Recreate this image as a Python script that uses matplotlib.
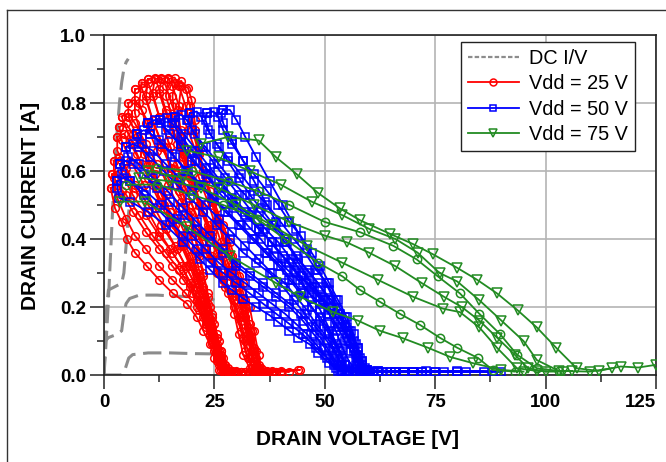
import matplotlib
matplotlib.use("Agg")
import matplotlib.pyplot as plt
from matplotlib.lines import Line2D
from matplotlib.ticker import MultipleLocator, FixedLocator

plt.rcParams['font.family'] = ['Liberation Sans', 'DejaVu Sans']

# ---- data: (drain voltage [V], drain current [A]) ----

# DC I/V curves
dc_curves = [
    [(0, 0), (0.5, 0.1), (1, 0.22), (1.5, 0.36), (2, 0.5), (2.5, 0.62), (3, 0.72),
     (3.5, 0.8), (4, 0.86), (4.5, 0.9), (5, 0.92), (5.5, 0.93)],
    [(0, 0), (0.3, 0.12), (0.6, 0.2), (1, 0.25), (2.5, 0.26), (4, 0.27), (4.5, 0.3),
     (5, 0.38), (5.2, 0.42), (5.6, 0.48), (5.9, 0.51), (6.2, 0.55)],
    [(0, 0), (0.3, 0.1), (1, 0.11), (3, 0.12), (4, 0.13), (4.5, 0.18), (5, 0.21),
     (5.8, 0.225), (8, 0.235), (12, 0.235), (16, 0.232), (20, 0.23), (24, 0.225), (25, 0.22)],
    [(0, 0), (4, 0.0), (4.6, 0.01), (5.1, 0.03), (5.6, 0.05), (6.5, 0.06), (10, 0.065),
     (15, 0.065), (20, 0.063), (25, 0.062)],
]

# Vdd = 25 V load lines
red_loops = [
    [(1.5, 0.55), (3, 0.56), (5, 0.53), (8, 0.47), (11, 0.41), (14, 0.36), (17, 0.31), (19.5, 0.26),
     (21.5, 0.21), (23, 0.16), (24.5, 0.11), (25.5, 0.07), (26.5, 0.03), (27, 0.01), (30, 0.01),
     (26, 0.015), (25, 0.05), (24, 0.09), (22.5, 0.13), (21, 0.17), (18.8, 0.21), (15.6, 0.24),
     (12.5, 0.28), (9.7, 0.32), (7, 0.36), (5.2, 0.4), (4, 0.45), (2.5, 0.49), (1.5, 0.55)],
    [(1.8, 0.59), (3.2, 0.6), (4.5, 0.58), (6.5, 0.53), (9.5, 0.47), (12.5, 0.41), (15.5, 0.36),
     (18, 0.31), (20.5, 0.25), (22.5, 0.19), (24, 0.13), (25.5, 0.08), (26.5, 0.04), (27.5, 0.01),
     (31, 0.01), (26.5, 0.015), (25.5, 0.05), (24.5, 0.1), (23, 0.15), (21, 0.2), (18.5, 0.24),
     (15.5, 0.28), (12.5, 0.32), (9.5, 0.37), (7, 0.41), (5, 0.46), (3, 0.52), (1.8, 0.59)],
    [(2.2, 0.63), (3.5, 0.64), (5, 0.61), (7, 0.56), (10, 0.5), (13, 0.44), (16, 0.38), (18.5, 0.32),
     (20.5, 0.27), (22, 0.22), (23.5, 0.17), (25, 0.11), (26, 0.06), (27, 0.02), (28, 0.01), (30, 0.008),
     (32, 0.01), (29, 0.012), (27, 0.015), (25.5, 0.04), (24.5, 0.09), (23, 0.14), (21.5, 0.19),
     (20, 0.24), (18, 0.28), (15.5, 0.32), (12.5, 0.37), (9.5, 0.42), (6.5, 0.48), (4, 0.54),
     (2.3, 0.58), (2.2, 0.63)],
    [(3, 0.70), (4.5, 0.71), (6, 0.68), (8.5, 0.62), (11, 0.56), (13.5, 0.5), (16, 0.44), (18, 0.38),
     (20, 0.32), (21.5, 0.27), (22.5, 0.22), (24, 0.16), (25, 0.11), (26, 0.07), (27, 0.03), (28, 0.01),
     (31, 0.01), (35, 0.01), (30, 0.012), (27.5, 0.015), (26, 0.03), (25, 0.07), (24, 0.12),
     (22.5, 0.17), (21, 0.22), (19.5, 0.27), (17.5, 0.32), (15, 0.37), (12.5, 0.42), (10, 0.48),
     (7, 0.55), (4.5, 0.62), (3, 0.66), (3, 0.70)],
    [(3.5, 0.73), (5, 0.74), (6.5, 0.71), (9, 0.65), (11.5, 0.59), (14, 0.53), (16.5, 0.47),
     (18.5, 0.41), (20, 0.35), (21.5, 0.29), (22.5, 0.24), (23.5, 0.19), (24.5, 0.14), (25.5, 0.09),
     (26.5, 0.05), (27.5, 0.02), (28.5, 0.01), (33, 0.01), (28, 0.012), (26.5, 0.03), (25.5, 0.07),
     (24.5, 0.12), (23.5, 0.17), (22, 0.22), (20.5, 0.27), (18.5, 0.32), (16.5, 0.37), (14, 0.43),
     (11.5, 0.49), (9, 0.56), (6, 0.63), (4, 0.69), (3.5, 0.73)],
    [(4, 0.76), (5.5, 0.77), (7, 0.74), (9.5, 0.68), (12, 0.62), (14.5, 0.56), (17, 0.49), (19, 0.43),
     (20.5, 0.37), (21.5, 0.31), (22.5, 0.26), (23.5, 0.21), (24.5, 0.16), (25.5, 0.11), (26.5, 0.07),
     (27.5, 0.03), (28.5, 0.01), (33, 0.01), (37, 0.012), (31, 0.01), (28, 0.015), (26.5, 0.04),
     (25.5, 0.08), (24.5, 0.13), (23.5, 0.18), (22.5, 0.23), (21, 0.28), (19.5, 0.33), (17.5, 0.39),
     (15, 0.45), (12.5, 0.51), (10, 0.58), (7.5, 0.65), (5.5, 0.71), (4, 0.76)],
    [(5.5, 0.8), (7, 0.81), (8.5, 0.78), (10.5, 0.73), (13, 0.67), (15.5, 0.61), (17.5, 0.55),
     (19.5, 0.48), (20.5, 0.42), (21.5, 0.36), (22.5, 0.3), (23.5, 0.24), (24.5, 0.18), (25.5, 0.12),
     (26.5, 0.07), (27.5, 0.03), (28.5, 0.01), (34, 0.01), (38, 0.012), (32, 0.01), (28, 0.02),
     (27, 0.05), (26, 0.1), (25, 0.15), (24, 0.2), (22.5, 0.25), (21, 0.3), (19.5, 0.35), (17.5, 0.41),
     (15, 0.48), (12.5, 0.55), (10, 0.62), (7.5, 0.7), (5.5, 0.76), (5.5, 0.8)],
    [(7, 0.84), (8.5, 0.845), (9.5, 0.81), (11, 0.75), (13, 0.68), (15, 0.61), (17, 0.54), (19, 0.47),
     (20.5, 0.41), (21.5, 0.35), (22.5, 0.29), (23.5, 0.23), (24.5, 0.17), (25.5, 0.11), (26.5, 0.06),
     (27.5, 0.02), (28.5, 0.01), (34, 0.01), (29, 0.012), (27.5, 0.015), (26, 0.04), (25, 0.09),
     (24, 0.14), (22.5, 0.2), (21, 0.26), (19.5, 0.32), (17.5, 0.38), (15.5, 0.45), (13, 0.53),
     (10.5, 0.62), (8.5, 0.7), (7, 0.77), (7, 0.84)],
    [(8.5, 0.86), (10, 0.86), (11, 0.82), (12.5, 0.76), (14.5, 0.69), (16.5, 0.62), (18.5, 0.55),
     (20.5, 0.48), (22.5, 0.41), (24.5, 0.34), (27, 0.28), (29.5, 0.22), (31, 0.16), (32, 0.1),
     (33, 0.05), (34, 0.01), (37, 0.01), (33, 0.02), (31.5, 0.06), (30.5, 0.12), (29.5, 0.18),
     (28, 0.24), (25.5, 0.3), (23, 0.36), (20.5, 0.43), (17.5, 0.51), (14.5, 0.58), (12, 0.66),
     (9.5, 0.74), (8, 0.8), (8.5, 0.86)],
    [(10, 0.87), (11.5, 0.875), (12.5, 0.84), (14, 0.78), (16, 0.71), (18, 0.64), (20, 0.57), (22, 0.5),
     (24, 0.43), (26, 0.37), (28, 0.3), (30, 0.24), (31.5, 0.17), (32.5, 0.11), (33.5, 0.05),
     (34.5, 0.01), (38, 0.01), (33.5, 0.02), (32, 0.07), (31, 0.13), (29.5, 0.2), (27.5, 0.26),
     (25.5, 0.31), (23, 0.37), (21, 0.43), (18.5, 0.51), (16, 0.59), (13.5, 0.67), (11, 0.75),
     (9.5, 0.82), (10, 0.87)],
    [(11.5, 0.87), (13, 0.875), (14, 0.85), (15.5, 0.79), (17.5, 0.72), (19.5, 0.65), (21.5, 0.58),
     (23.5, 0.51), (25, 0.45), (26.5, 0.39), (28, 0.33), (29.5, 0.27), (31, 0.21), (32.5, 0.14),
     (33.5, 0.07), (34.5, 0.02), (35.5, 0.01), (40, 0.01), (34, 0.015), (32.5, 0.05), (31.5, 0.11),
     (30.5, 0.17), (29, 0.23), (27, 0.29), (24.5, 0.35), (22.5, 0.42), (20, 0.5), (17.5, 0.58),
     (15, 0.67), (12.5, 0.76), (11, 0.83), (11.5, 0.87)],
    [(13, 0.87), (14.5, 0.875), (15.5, 0.85), (17, 0.79), (19, 0.72), (21, 0.65), (23, 0.57),
     (24.5, 0.5), (26, 0.44), (27.5, 0.38), (29, 0.32), (30.5, 0.26), (32, 0.19), (33, 0.13), (34, 0.07),
     (35, 0.02), (36, 0.01), (42, 0.01), (35, 0.015), (33.5, 0.06), (32.5, 0.12), (31.5, 0.18),
     (30, 0.24), (28, 0.3), (25.5, 0.36), (23.5, 0.43), (21.5, 0.5), (19, 0.59), (16.5, 0.68),
     (14, 0.77), (12.5, 0.83), (13, 0.87)],
    [(14.5, 0.87), (16, 0.875), (17, 0.85), (18.5, 0.79), (20, 0.72), (21.5, 0.65), (23, 0.58),
     (24.5, 0.51), (26, 0.45), (27.5, 0.39), (29, 0.33), (30.5, 0.27), (32, 0.2), (33.5, 0.13),
     (34.5, 0.07), (35.5, 0.02), (36.5, 0.01), (40, 0.012), (44, 0.015), (36, 0.015), (34.5, 0.05),
     (33, 0.11), (32, 0.17), (30.5, 0.23), (28.5, 0.29), (26.5, 0.35), (24.5, 0.41), (22.5, 0.48),
     (20.5, 0.56), (18, 0.65), (16, 0.74), (14, 0.82), (14.5, 0.87)],
    [(16, 0.86), (17.5, 0.865), (18.5, 0.84), (19.5, 0.79), (20.5, 0.72), (21.5, 0.65), (23, 0.58),
     (24.5, 0.52), (26, 0.46), (27.5, 0.41), (29, 0.35), (30.5, 0.29), (32, 0.22), (33, 0.15),
     (34, 0.08), (35, 0.03), (36, 0.01), (39, 0.01), (35, 0.015), (33.5, 0.06), (32.5, 0.12),
     (31.5, 0.19), (30, 0.25), (28, 0.31), (25.5, 0.38), (23.5, 0.44), (21.5, 0.5), (19.5, 0.58),
     (17.5, 0.67), (16, 0.76), (15.5, 0.82), (16, 0.86)],
    [(17.5, 0.85), (19, 0.845), (19.8, 0.81), (20.5, 0.75), (21.5, 0.67), (22.5, 0.6), (24, 0.54),
     (25.5, 0.49), (27, 0.44), (28.5, 0.39), (30, 0.33), (31.5, 0.27), (33, 0.2), (34, 0.13), (35, 0.06),
     (35.8, 0.01), (39, 0.01), (44.4, 0.015), (38, 0.01), (35, 0.012), (34, 0.04), (33, 0.1), (32, 0.17),
     (30.5, 0.23), (28.5, 0.3), (26.5, 0.36), (24.5, 0.42), (22.5, 0.48), (20.5, 0.55), (19, 0.62),
     (17.5, 0.7), (16.8, 0.78), (17.5, 0.85)],
]

# Vdd = 50 V load lines
blue_loops = [
    [(3, 0.57), (4.5, 0.58), (6, 0.57), (9, 0.53), (12, 0.49), (15, 0.45), (18, 0.41), (21, 0.37),
     (24, 0.33), (27, 0.3), (30, 0.27), (33, 0.24), (36, 0.21), (39, 0.18), (42, 0.15), (45, 0.12),
     (48, 0.08), (50.5, 0.05), (52.5, 0.02), (54, 0.01), (58, 0.01), (62, 0.01), (53, 0.012),
     (51, 0.035), (48.5, 0.065), (46.6, 0.09), (44, 0.11), (42, 0.13), (39.5, 0.155), (37.6, 0.175),
     (34.5, 0.2), (31.5, 0.225), (29, 0.25), (27, 0.27), (24, 0.31), (21.7, 0.34), (18, 0.39),
     (14, 0.44), (10, 0.48), (6, 0.51), (3.5, 0.52), (3, 0.55), (3, 0.57)],
    [(3.6, 0.62), (5, 0.63), (6.5, 0.62), (9, 0.59), (12, 0.55), (15, 0.51), (18, 0.47), (21, 0.43),
     (24, 0.39), (27, 0.36), (30, 0.32), (33, 0.29), (36, 0.26), (39, 0.23), (42, 0.2), (45, 0.16),
     (47.5, 0.12), (50, 0.08), (52, 0.04), (53.5, 0.015), (55, 0.01), (60, 0.008), (66, 0.01),
     (57, 0.01), (54, 0.012), (52, 0.03), (50, 0.06), (48, 0.09), (46, 0.12), (43.5, 0.15), (41, 0.18),
     (38, 0.21), (35, 0.24), (32, 0.27), (29, 0.3), (26, 0.33), (23, 0.37), (20, 0.41), (16.5, 0.46),
     (13, 0.5), (9.5, 0.54), (6, 0.57), (4, 0.59), (3.6, 0.62)],
    [(5, 0.67), (6.5, 0.68), (8, 0.67), (10.5, 0.64), (13.5, 0.6), (16.5, 0.56), (19.5, 0.52),
     (22.5, 0.48), (25.5, 0.44), (28.5, 0.4), (31.5, 0.36), (34.5, 0.33), (37.5, 0.3), (40.5, 0.26),
     (43, 0.22), (45.5, 0.18), (48, 0.14), (50.5, 0.1), (52.5, 0.06), (54, 0.025), (55, 0.01),
     (63, 0.01), (70, 0.01), (60, 0.008), (54.5, 0.012), (53, 0.03), (51, 0.07), (49, 0.11), (47, 0.14),
     (44.5, 0.18), (42, 0.21), (39, 0.24), (36, 0.27), (33, 0.3), (30, 0.33), (27, 0.37), (24, 0.41),
     (21, 0.45), (18, 0.49), (14.5, 0.54), (11, 0.58), (8, 0.62), (5.5, 0.64), (5, 0.67)],
    [(7.5, 0.71), (9, 0.72), (10.5, 0.71), (13, 0.68), (16, 0.64), (19, 0.6), (22, 0.56), (25, 0.52),
     (28, 0.48), (31, 0.44), (34, 0.4), (37, 0.36), (40, 0.32), (42.5, 0.28), (45, 0.24), (47, 0.2),
     (49, 0.16), (51, 0.12), (53, 0.07), (54.5, 0.03), (55.5, 0.01), (62, 0.012), (68, 0.01),
     (75, 0.01), (64, 0.008), (55, 0.012), (53.5, 0.04), (52, 0.08), (50, 0.12), (48, 0.15), (46, 0.19),
     (43.5, 0.23), (41, 0.27), (38, 0.3), (35, 0.34), (32, 0.38), (29, 0.42), (26, 0.46), (23, 0.5),
     (20, 0.54), (17, 0.58), (14, 0.62), (11, 0.66), (8.5, 0.68), (7.5, 0.71)],
    [(10, 0.74), (11.5, 0.75), (13, 0.74), (15, 0.71), (17.5, 0.67), (20, 0.63), (23, 0.59), (26, 0.55),
     (29, 0.51), (32, 0.47), (35, 0.43), (38, 0.39), (40.5, 0.35), (43, 0.31), (45, 0.27), (47, 0.23),
     (49, 0.19), (50.5, 0.15), (52, 0.11), (53.5, 0.07), (54.5, 0.03), (55.5, 0.01), (65, 0.01),
     (72, 0.008), (80, 0.01), (58, 0.01), (55, 0.015), (54, 0.05), (52.5, 0.09), (51, 0.13), (49, 0.17),
     (47, 0.2), (44.5, 0.24), (42, 0.28), (39.5, 0.32), (36.5, 0.36), (33.5, 0.4), (30.5, 0.44),
     (27.5, 0.48), (24.5, 0.52), (21.5, 0.56), (18.5, 0.6), (15.5, 0.65), (12.5, 0.69), (10.5, 0.71),
     (10, 0.74)],
    [(12.7, 0.75), (14.2, 0.755), (15.5, 0.74), (17.5, 0.7), (20, 0.66), (23, 0.61), (26, 0.57),
     (29, 0.52), (32, 0.48), (35, 0.43), (38, 0.39), (41, 0.34), (43.5, 0.3), (46, 0.27), (48.5, 0.23),
     (51, 0.2), (53, 0.16), (55, 0.12), (56.5, 0.08), (57.5, 0.04), (58.5, 0.01), (66, 0.01), (75, 0.01),
     (62, 0.012), (58, 0.015), (57, 0.03), (56, 0.07), (54.5, 0.1), (53, 0.14), (51, 0.18), (49, 0.21),
     (46.5, 0.24), (44, 0.28), (41.5, 0.31), (38.5, 0.35), (35.5, 0.4), (32.5, 0.44), (29.5, 0.49),
     (26.5, 0.53), (23.5, 0.58), (20.5, 0.63), (17.5, 0.68), (14, 0.72), (12.7, 0.75)],
    [(16, 0.76), (17.5, 0.765), (18.7, 0.75), (20.5, 0.71), (23, 0.67), (26, 0.62), (29, 0.57),
     (32, 0.53), (35, 0.48), (38, 0.44), (41, 0.39), (44, 0.34), (46.5, 0.3), (49, 0.26), (51.5, 0.22),
     (53.5, 0.18), (55.5, 0.13), (57, 0.09), (58, 0.05), (59, 0.02), (60, 0.01), (70, 0.01), (82, 0.01),
     (66, 0.008), (59, 0.015), (57.5, 0.03), (56.5, 0.07), (55, 0.11), (53.5, 0.15), (51.5, 0.19),
     (49.5, 0.22), (47, 0.26), (44.5, 0.29), (42, 0.33), (39, 0.37), (36, 0.42), (33, 0.47), (30, 0.51),
     (27, 0.56), (24, 0.61), (21, 0.66), (18, 0.71), (16, 0.74), (16, 0.76)],
    [(19.5, 0.77), (21, 0.775), (22, 0.76), (23.5, 0.72), (25.5, 0.68), (28, 0.64), (31, 0.59),
     (34, 0.54), (37, 0.5), (40, 0.45), (43, 0.4), (45.5, 0.36), (48, 0.31), (50.5, 0.27), (52.5, 0.22),
     (54.5, 0.17), (56, 0.13), (57.5, 0.08), (58.5, 0.04), (59.5, 0.015), (61, 0.01), (73, 0.012),
     (86, 0.01), (68, 0.01), (59.5, 0.015), (58, 0.03), (57, 0.06), (55.5, 0.1), (54, 0.14), (52, 0.18),
     (50, 0.22), (47.5, 0.26), (45, 0.3), (42.5, 0.34), (39.5, 0.39), (36.5, 0.43), (33.5, 0.48),
     (30.5, 0.53), (27.5, 0.58), (25, 0.62), (22.5, 0.67), (20, 0.72), (19, 0.75), (19.5, 0.77)],
    [(23.3, 0.77), (24.8, 0.775), (25.8, 0.76), (27, 0.72), (29, 0.68), (31.5, 0.63), (34, 0.59),
     (37, 0.54), (39.5, 0.5), (42, 0.45), (44.5, 0.41), (47, 0.36), (49, 0.32), (51, 0.27), (53, 0.22),
     (55, 0.17), (56.5, 0.12), (57.5, 0.08), (58.5, 0.04), (59.5, 0.015), (61, 0.01), (77, 0.01),
     (88, 0.01), (70, 0.008), (60, 0.012), (58.5, 0.03), (57.5, 0.06), (56.5, 0.1), (55, 0.14),
     (53, 0.18), (51, 0.22), (48.5, 0.27), (46, 0.31), (43.5, 0.35), (41, 0.4), (38.5, 0.44),
     (35.5, 0.49), (33, 0.53), (30.5, 0.58), (28, 0.63), (26, 0.67), (24, 0.71), (23, 0.75), (23.3, 0.77)],
    [(27, 0.78), (28.5, 0.78), (30, 0.75), (32, 0.7), (34.5, 0.64), (37.5, 0.57), (40.5, 0.5),
     (43.5, 0.43), (46, 0.37), (48.5, 0.31), (51, 0.25), (53, 0.19), (54.5, 0.14), (56, 0.09),
     (57.5, 0.05), (58.5, 0.02), (60, 0.01), (72, 0.01), (80, 0.012), (90, 0.01), (62, 0.01),
     (57, 0.015), (55.5, 0.04), (54, 0.08), (52.5, 0.13), (51, 0.18), (49, 0.23), (46.5, 0.28),
     (44, 0.33), (41.5, 0.39), (39, 0.45), (36.5, 0.51), (34, 0.57), (31.5, 0.63), (29, 0.69),
     (27, 0.74), (26.5, 0.77), (27, 0.78)],
]

# Vdd = 75 V load lines (triangle-marked)
green_tri_lines = [
    [(22, 0.68), (28, 0.7), (35, 0.69), (39, 0.64), (43.7, 0.59), (48.5, 0.535), (53.4, 0.49),
     (58, 0.455), (64.8, 0.415), (70, 0.385), (74.5, 0.355), (80, 0.315), (84.5, 0.28), (89, 0.24),
     (93.7, 0.19), (98, 0.14), (102.4, 0.08), (107, 0.02), (112, 0.012), (117, 0.025), (121, 0.022),
     (125, 0.03)],
    [(18.8, 0.66), (26, 0.64), (33, 0.6), (40, 0.56), (47, 0.51), (54, 0.47), (60, 0.43), (66, 0.4),
     (71, 0.36), (76, 0.30), (80, 0.275), (85, 0.22), (90, 0.16), (95, 0.1), (98, 0.044), (103, 0.012),
     (110, 0.01), (115, 0.02)],
    [(10, 0.6), (18, 0.58), (26, 0.55), (34, 0.5), (42, 0.45), (50, 0.41), (55, 0.39), (60, 0.36),
     (66, 0.32), (72, 0.27), (77, 0.23), (81, 0.2), (85, 0.16), (89, 0.11), (93, 0.06), (96, 0.02),
     (100, 0.01), (106, 0.012)],
    [(8, 0.58), (15, 0.57), (22, 0.55), (30, 0.5), (38, 0.44), (46, 0.38), (54, 0.33), (62, 0.28),
     (70, 0.23), (76.8, 0.195), (80.6, 0.185), (85, 0.14), (89, 0.08), (93.5, 0.02), (98, 0.012),
     (104, 0.01)],
    [(3.6, 0.51), (9.3, 0.51), (18.8, 0.435), (28.5, 0.35), (39, 0.27), (44.4, 0.23), (51.9, 0.185),
     (57.5, 0.16), (62.5, 0.13), (67.7, 0.108), (73.4, 0.08), (78.4, 0.053), (83.5, 0.035),
     (90, 0.015), (95, 0.01)],
]

# Vdd = 75 V load lines (circle-marked)
green_circ_lines = [
    [(12, 0.61), (20, 0.6), (28, 0.57), (35, 0.54), (42, 0.5), (50, 0.45), (58, 0.42), (65.5, 0.38),
     (70.8, 0.34), (75.6, 0.29), (80.6, 0.24), (85, 0.18), (89.7, 0.12), (93.5, 0.06), (98, 0.02),
     (103, 0.012)],
    [(5, 0.56), (12, 0.56), (20, 0.53), (27, 0.5), (34.6, 0.46), (41, 0.4), (48.5, 0.33), (54, 0.29),
     (58, 0.25), (62.5, 0.215), (67, 0.18), (71.6, 0.147), (76, 0.11), (80, 0.08), (84.7, 0.05),
     (88, 0.015), (93, 0.01)],
]

legend_labels = ['DC I/V', 'Vdd = 25 V', 'Vdd = 50 V', 'Vdd = 75 V']
x_ticks = [0, 25, 50, 75, 100, 125]
y_ticks = [0.0, 0.2, 0.4, 0.6, 0.8, 1.0]

RED = '#ff0000'
BLUE = '#0000ff'
GREEN = '#228b22'
GRAY = '#8c8c8c'

fig = plt.figure(figsize=(6.66, 4.62), dpi=100)
# outer frame (only left and top edges are inside the picture)
fig.add_artist(Line2D([7 / 666, 7 / 666], [0, 452 / 462], transform=fig.transFigure,
                      color='#333333', lw=1.0))
fig.add_artist(Line2D([7 / 666, 1], [452 / 462, 452 / 462], transform=fig.transFigure,
                      color='#333333', lw=1.0))
ax = fig.add_axes([104 / 666, 87 / 462, 552 / 666, 340 / 462])


def draw(curves, color, marker, ms, z):
    for c in curves:
        v, i = zip(*c)
        ax.plot(v, i, color=color, lw=1.3, marker=marker, ms=ms, mfc='none',
                mec=color, mew=1.1, zorder=z)


for c in dc_curves:
    v, i = zip(*c)
    ax.plot(v, i, color=GRAY, lw=2.2, ls=(0, (6, 2.5)), zorder=2)

draw(red_loops, RED, 'o', 5.5, 3)
draw(blue_loops, BLUE, 's', 5.5, 4)
draw(green_tri_lines, GREEN, 'v', 6.5, 5)
draw(green_circ_lines, GREEN, 'o', 6.0, 5)

ax.set_xlim(0, 125)
ax.set_ylim(0, 1.0)
ax.xaxis.set_major_locator(FixedLocator(x_ticks))
ax.yaxis.set_major_locator(FixedLocator(y_ticks))
ax.xaxis.set_minor_locator(MultipleLocator(12.5))
ax.yaxis.set_minor_locator(MultipleLocator(0.1))
ax.set_xticklabels([str(t) for t in x_ticks])
ax.set_yticklabels(['%.1f' % t for t in y_ticks])
for lab in ax.get_xticklabels() + ax.get_yticklabels():
    lab.set_fontweight('bold')
    lab.set_fontsize(13.5)
ax.get_xticklabels()[-1].set_horizontalalignment('right')
ax.tick_params(which='major', direction='out', length=10, width=1.1, color='#222222')
ax.tick_params(which='minor', direction='out', length=5, width=1.1, color='#222222')
ax.tick_params(axis='y', which='major', pad=3)
ax.tick_params(axis='x', which='major', pad=4)
ax.grid(True, which='major', color='#b4b4b4', lw=1.2, zorder=0)
ax.set_axisbelow(True)
for s in ax.spines.values():
    s.set_linewidth(1.2)
    s.set_color('#222222')

ax.set_xlabel('DRAIN VOLTAGE [V]', fontsize=15, fontweight='bold')
ax.set_ylabel('DRAIN CURRENT [A]', fontsize=15, fontweight='bold')
ax.xaxis.set_label_coords(0.459, -0.162)
ax.yaxis.set_label_coords(-0.116, 0.497)

handles = [
    Line2D([], [], color=GRAY, lw=1.6, ls=(0, (2, 1))),
    Line2D([], [], color=RED, lw=1.3, marker='o', ms=5, mfc='none', mew=1.1),
    Line2D([], [], color=BLUE, lw=1.3, marker='s', ms=5, mfc='none', mew=1.1),
    Line2D([], [], color=GREEN, lw=1.3, marker='v', ms=5.5, mfc='none', mew=1.1),
]
leg = ax.legend(handles, legend_labels, loc='upper right', bbox_to_anchor=(0.962, 0.98),
                fontsize=14.3, frameon=True, fancybox=False, edgecolor='#222222', framealpha=1,
                handlelength=2.6, handletextpad=0.5, labelspacing=0.33, borderpad=0.35,
                numpoints=1, borderaxespad=0)
leg.get_frame().set_linewidth(1.0)
leg.set_zorder(10)

fig.savefig('out.png', dpi=100)
